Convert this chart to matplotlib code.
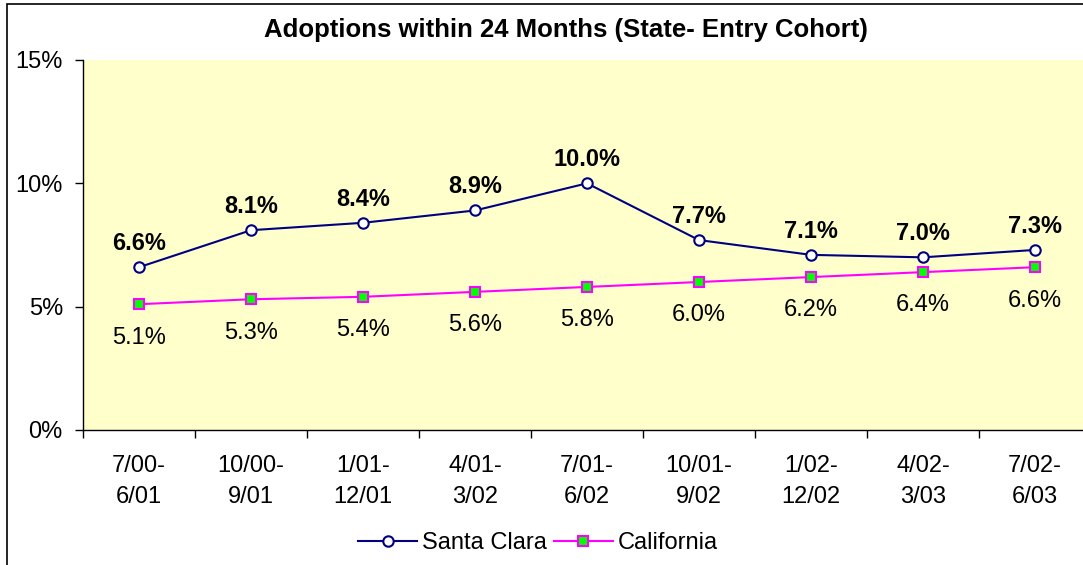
import numpy as np
import matplotlib
matplotlib.use("Agg")
import matplotlib.pyplot as plt
from matplotlib.patches import Rectangle

CATEGORIES = ["7/00-\n6/01", "10/00-\n9/01", "1/01-\n12/01", "4/01-\n3/02", "7/01-\n6/02",
              "10/01-\n9/02", "1/02-\n12/02", "4/02-\n3/03", "7/02-\n6/03"]
SANTA_CLARA = [6.6, 8.1, 8.4, 8.9, 10.0, 7.7, 7.1, 7.0, 7.3]
CALIFORNIA = [5.1, 5.3, 5.4, 5.6, 5.8, 6.0, 6.2, 6.4, 6.6]
Y_TICKS = [0, 5, 10, 15]

plt.rcParams["font.family"] = ["Liberation Sans", "DejaVu Sans"]

W, H = 1083, 565
fig = plt.figure(figsize=(W / 100, H / 100), dpi=100)

# plot area in pixel terms (right edge runs past the image, as in the source)
left, right, top, bottom = 83, 1091, 60, 430
ax = fig.add_axes([left / W, 1 - bottom / H, (right - left) / W, (bottom - top) / H])
ax.set_facecolor("#FFFFCC")

x = np.arange(len(CATEGORIES))
ax.plot(x, SANTA_CLARA, color="#000080", lw=1.5, marker="o", ms=7.5,
        mfc="white", mec="#000080", mew=1.5, label="Santa Clara", zorder=3)
ax.plot(x, CALIFORNIA, color="#FF00FF", lw=1.5, marker="s", ms=7.5,
        mfc="#00FF00", mec="#FF00FF", mew=1.5, label="California", zorder=3)

for xi, v in zip(x, SANTA_CLARA):
    ax.annotate(f"{v:.1f}%", (xi, v), xytext=(0, 17), textcoords="offset points",
                ha="center", va="center", fontsize=17, fontweight="bold")
for xi, v in zip(x, CALIFORNIA):
    ax.annotate(f"{v:.1f}%", (xi, v), xytext=(0, -24), textcoords="offset points",
                ha="center", va="center", fontsize=17)

ax.set_xlim(-0.5, len(CATEGORIES) - 0.5)
ax.set_ylim(0, 15)
ax.set_yticks(Y_TICKS)
ax.set_yticklabels([f"{t}%" for t in Y_TICKS], fontsize=17)
ax.set_xticks(x)
ax.set_xticklabels(CATEGORIES, fontsize=17, linespacing=1.55)
ax.tick_params(axis="x", length=0, pad=18)
ax.set_xticks(np.arange(len(CATEGORIES) + 1) - 0.5, minor=True)
ax.tick_params(axis="x", which="minor", length=5.5, width=1, color="black")
ax.tick_params(axis="y", length=5.5, width=1, pad=9)

for s in ("top", "right"):
    ax.spines[s].set_visible(False)
for s in ("left", "bottom"):
    ax.spines[s].set_color("black")
    ax.spines[s].set_linewidth(1)

fig.text(566 / W, 1 - 30 / H, "Adoptions within 24 Months (State- Entry Cohort)",
         ha="center", va="center", fontsize=18.5, fontweight="bold")

fig.legend(loc="center", bbox_to_anchor=(538 / W, 1 - 543 / H), ncol=2, frameon=False,
           fontsize=17, handlelength=2.5, handletextpad=0.2, columnspacing=0.3)

fig.patches.append(Rectangle((7 / W, -0.1), 1.1, 1.1 - 4 / H, transform=fig.transFigure,
                             fill=False, edgecolor="black", lw=1.2))

fig.savefig("out.png", dpi=100)
